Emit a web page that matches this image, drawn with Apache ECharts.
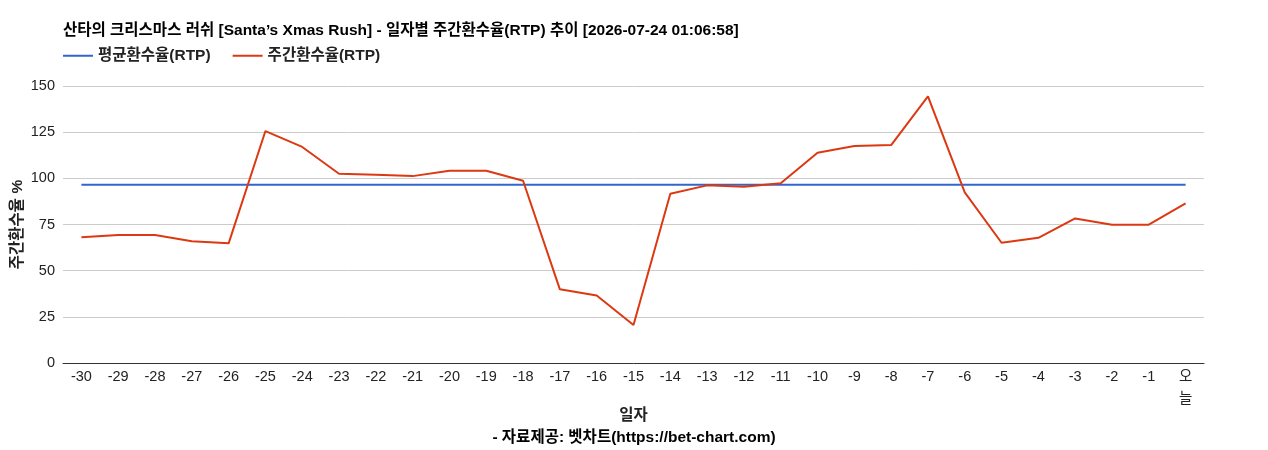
<!DOCTYPE html>
<html lang="ko">
<head>
    <meta charset="UTF-8">
    <title>주간환수율 추이</title>
    <script src="https://cdn.jsdelivr.net/npm/echarts@6/dist/echarts.min.js"></script>
    <style>
        html, body { margin: 0; padding: 0; background: #fff; }
    </style>
</head>
<body>
<div id="main" style="width:1268px;height:450px;"></div>
<script type="text/javascript">
    // 일자 (오늘 = 0)
    var days = ['-30', '-29', '-28', '-27', '-26', '-25', '-24', '-23', '-22', '-21',
        '-20', '-19', '-18', '-17', '-16', '-15', '-14', '-13', '-12', '-11',
        '-10', '-9', '-8', '-7', '-6', '-5', '-4', '-3', '-2', '-1', '오늘'];

    // 주간환수율
    var weeklyRtp = [68.1, 69.3, 69.3, 65.9, 64.8, 125.6, 117.0, 102.5, 102.0, 101.2,
        104.1, 104.1, 98.7, 39.9, 36.6, 20.6, 91.7, 96.2, 95.5, 97.3,
        113.9, 117.5, 118.0, 144.4, 92.4, 65.1, 67.8, 78.3, 74.9, 74.9, 86.4];

    // 평균환수율
    var avgRtpValue = 96.5;
    var avgRtp = days.map(function () { return avgRtpValue; });

    var yTicks = [0, 25, 50, 75, 100, 125, 150];

    var fontFamily = 'Arial, "Liberation Sans", "Noto Sans CJK KR", sans-serif';
    var boldSize = 15.5;

    var myChart = echarts.init(document.getElementById('main'));
    myChart.setOption({
        color: ['#3366cc', '#dc3912'],
        textStyle: { fontFamily: fontFamily },
        title: [{
            text: '산타의 크리스마스 러쉬 [Santa’s Xmas Rush] - 일자별 주간환수율(RTP) 추이 [2026-07-24 01:06:58]',
            left: 63,
            top: 23,
            padding: 0,
            textStyle: { fontSize: boldSize, fontWeight: 'bold', color: '#000', fontFamily: fontFamily }
        }, {
            text: '- 자료제공: 벳차트(https://bet-chart.com)',
            left: 'center',
            top: 430,
            padding: 0,
            textStyle: { fontSize: boldSize, fontWeight: 'bold', color: '#000', fontFamily: fontFamily }
        }],
        legend: {
            left: 63,
            top: 48,
            padding: 0,
            itemWidth: 30,
            itemHeight: 18,
            itemGap: 22,
            textStyle: { fontSize: boldSize, fontWeight: 'bold', color: '#222' },
            data: [
                { name: '평균환수율(RTP)', icon: 'path://M0,8 L30,8 L30,10 L0,10 Z' },
                { name: '주간환수율(RTP)', icon: 'path://M0,8 L30,8 L30,10 L0,10 Z' }
            ]
        },
        grid: {
            left: 63,
            right: 64,
            top: 86,
            bottom: 87,
            containLabel: false,
            outerBoundsMode: 'none'
        },
        xAxis: {
            type: 'category',
            data: days,
            boundaryGap: true,
            name: '일자',
            nameLocation: 'middle',
            nameGap: 45,
            nameMoveOverlap: false,
            nameTextStyle: { fontSize: boldSize, fontWeight: 'bold', color: '#222' },
            axisLine: { show: true, lineStyle: { color: '#333', width: 1 } },
            axisTick: { show: false },
            axisLabel: {
                fontSize: 14.5,
                color: '#222',
                margin: 3,
                interval: 0,
                lineHeight: 22,
                formatter: function (v) { return v === '오늘' ? '오\n늘' : v; }
            }
        },
        yAxis: {
            type: 'value',
            min: 0,
            max: 150,
            interval: 25,
            name: '주간환수율 %',
            nameLocation: 'middle',
            nameGap: 38,
            nameMoveOverlap: false,
            nameTextStyle: { fontSize: boldSize, fontWeight: 'bold', color: '#222' },
            axisLine: { show: false },
            axisTick: { show: false },
            axisLabel: {
                fontSize: 14.5,
                color: '#222',
                margin: 8,
                formatter: function (v) { return yTicks.indexOf(v) >= 0 ? String(v) : ''; }
            },
            splitLine: { lineStyle: { color: '#cccccc', width: 1 } }
        },
        series: [{
            name: '평균환수율(RTP)',
            type: 'line',
            data: avgRtp,
            symbol: 'none',
            lineStyle: { width: 2 },
            animation: false
        }, {
            name: '주간환수율(RTP)',
            type: 'line',
            data: weeklyRtp,
            symbol: 'none',
            lineStyle: { width: 2 },
            animation: false
        }]
    });
</script>
</body>
</html>
